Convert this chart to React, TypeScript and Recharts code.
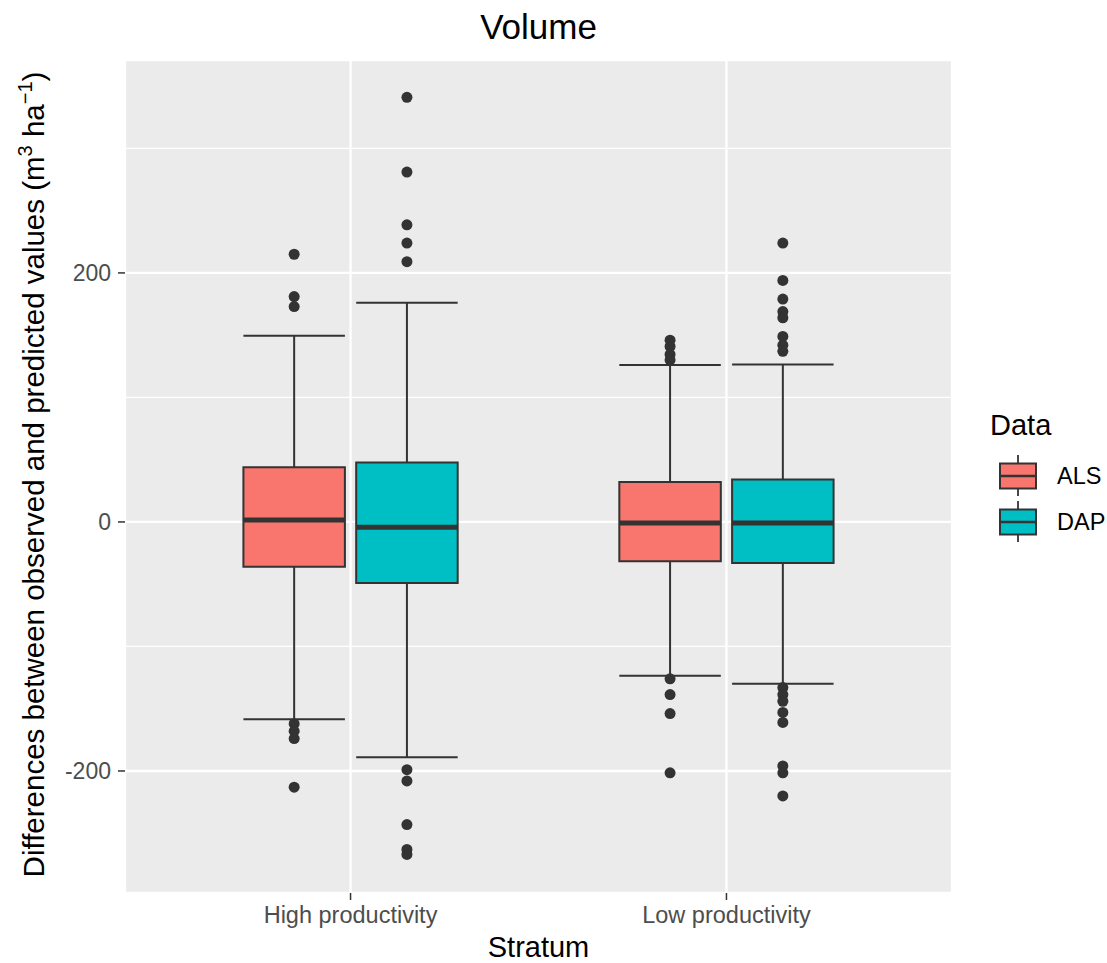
import React from "react";
import {
  ComposedChart,
  Scatter,
  XAxis,
  YAxis,
  CartesianGrid,
  ReferenceArea,
  ReferenceLine,
  Label,
} from "recharts";

// categories and groups
const strata = ["High productivity", "Low productivity"];
const groups = ["ALS", "DAP"];
const groupColors = ["#F8766D", "#00BFC4"];

// box stats per stratum: [lower whisker, Q1, median, Q3, upper whisker]
const alsStats = [
  [-158.5, -36, 1.6, 44, 149.5],
  [-123.5, -31.6, -0.8, 32, 126],
];
const dapStats = [
  [-189, -49, -4.3, 47.8, 176],
  [-130, -33, -0.8, 34, 126.5],
];

// outliers per stratum
const alsOutliers = [
  [215, 181, 173, -162, -168, -174, -213],
  [146, 141, 134.5, 130, -126, -138.6, -153.9, -201.5],
];
const dapOutliers = [
  [341, 281, 238.6, 224, 209, -199, -208, -243, -263, -267],
  [224, 194, 179, 169, 164, 149, 142, 137, -133, -138.6, -144, -153, -161, -196, -201.5, -220],
];

const yTicks = [-200, 0, 200];
const yMinor = [-100, 100, 300];

const statsByGroup = [alsStats, dapStats];
const outliersByGroup = [alsOutliers, dapOutliers];

const DODGE = 0.15;
const HALF = 0.135;
const INK = "#333333";
const FONT = "'Liberation Sans', Arial, Helvetica, sans-serif";

const YTitle = ({ viewBox }: any) => {
  const x = 44;
  const cy = viewBox.y + viewBox.height / 2 - 2;
  return (
    <text
      x={x}
      y={cy}
      transform={`rotate(-90 ${x} ${cy})`}
      textAnchor="middle"
      fontSize={29.5}
      fill="#000"
      fontFamily={FONT}
    >
      Differences between observed and predicted values (m
      <tspan dy={-12} fontSize={20}>3</tspan>
      <tspan dy={12}> ha</tspan>
      <tspan dy={-12} fontSize={20}>−1</tspan>
      <tspan dy={12}>)</tspan>
    </text>
  );
};

const Dot = (props: any) => <circle cx={props.cx} cy={props.cy} r={5.5} fill={INK} />;

const KeyIcon = ({ color }: { color: string }) => (
  <svg width={40} height={46} style={{ display: "block" }}>
    <line x1={19} y1={2} x2={19} y2={43} stroke={INK} strokeWidth={1.8} />
    <rect x={1} y={10.5} width={36} height={25} fill={color} stroke={INK} strokeWidth={2} />
    <line x1={1} y1={23} x2={37} y2={23} stroke={INK} strokeWidth={2.5} />
  </svg>
);

export default function App() {
  const boxes: React.ReactNode[] = [];
  groups.forEach((g, gi) => {
    statsByGroup[gi].forEach((s, si) => {
      const cx = si + 1 + (gi === 0 ? -DODGE : DODGE);
      const [lo, q1, med, q3, hi] = s;
      boxes.push(
        <ReferenceLine key={`wu-${g}-${si}`} segment={[{ x: cx, y: q3 }, { x: cx, y: hi }]} stroke={INK} strokeWidth={2} />,
        <ReferenceLine key={`wl-${g}-${si}`} segment={[{ x: cx, y: lo }, { x: cx, y: q1 }]} stroke={INK} strokeWidth={2} />,
        <ReferenceLine key={`cu-${g}-${si}`} segment={[{ x: cx - HALF, y: hi }, { x: cx + HALF, y: hi }]} stroke={INK} strokeWidth={2} />,
        <ReferenceLine key={`cl-${g}-${si}`} segment={[{ x: cx - HALF, y: lo }, { x: cx + HALF, y: lo }]} stroke={INK} strokeWidth={2} />,
        <ReferenceArea
          key={`b-${g}-${si}`}
          x1={cx - HALF}
          x2={cx + HALF}
          y1={q1}
          y2={q3}
          fill={groupColors[gi]}
          fillOpacity={1}
          stroke={INK}
          strokeWidth={2}
        />,
        <ReferenceLine key={`m-${g}-${si}`} segment={[{ x: cx - HALF, y: med }, { x: cx + HALF, y: med }]} stroke={INK} strokeWidth={5} />
      );
    });
  });

  const points = groups.map((g, gi) =>
    outliersByGroup[gi].flatMap((vals, si) =>
      vals.map((v) => ({ x: si + 1 + (gi === 0 ? -DODGE : DODGE), y: v }))
    )
  );

  return (
    <div style={{ position: "absolute", left: 0, top: 0, width: 1107, height: 963, background: "#fff", fontFamily: FONT }}>
      <ComposedChart width={1107} height={963} margin={{ top: 60, right: 155, bottom: 0, left: 0 }}>
        <CartesianGrid fill="#EBEBEB" stroke="#FFFFFF" strokeWidth={2.3} />
        {yMinor.map((v) => (
          <ReferenceLine key={`minor-${v}`} y={v} stroke="#FFFFFF" strokeWidth={1.2} ifOverflow="discard" />
        ))}
        <XAxis
          type="number"
          dataKey="x"
          domain={[0.4, 2.6]}
          ticks={[1, 2]}
          tickFormatter={(v: number) => strata[v - 1]}
          allowDataOverflow
          height={70}
          axisLine={false}
          tickSize={7}
          tickMargin={6}
          tickLine={{ stroke: INK, strokeWidth: 1.5 }}
          tick={{ fill: "#4D4D4D", fontSize: 23.5, fontFamily: FONT }}
        >
          <Label value="Stratum" position="insideBottom" offset={6} fontSize={29} fill="#000" fontFamily={FONT} />
        </XAxis>
        <YAxis
          type="number"
          dataKey="y"
          domain={[-298, 371]}
          ticks={yTicks}
          allowDataOverflow
          width={125}
          axisLine={false}
          tickSize={7}
          tickMargin={7}
          tickLine={{ stroke: INK, strokeWidth: 1.5 }}
          tick={{ fill: "#4D4D4D", fontSize: 23, fontFamily: FONT }}
        >
          <Label content={(p: any) => <YTitle {...p} />} />
        </YAxis>
        {boxes}
        {groups.map((g, gi) => (
          <Scatter key={g} name={g} data={points[gi]} fill={INK} shape={Dot} isAnimationActive={false} />
        ))}
      </ComposedChart>

      <div
        style={{
          position: "absolute",
          left: 125,
          width: 827,
          top: 9,
          textAlign: "center",
          fontSize: 35,
          lineHeight: "35px",
          color: "#000",
        }}
      >
        Volume
      </div>

      <div style={{ position: "absolute", left: 990, top: 411 }}>
        <div style={{ fontSize: 29, lineHeight: "29px", color: "#000", marginBottom: 13 }}>Data</div>
        {groups.map((g, gi) => (
          <div key={g} style={{ display: "flex", alignItems: "center", height: 46, marginLeft: 9 }}>
            <KeyIcon color={groupColors[gi]} />
            <span style={{ fontSize: 23.5, marginLeft: 18, color: "#000" }}>{g}</span>
          </div>
        ))}
      </div>
    </div>
  );
}
